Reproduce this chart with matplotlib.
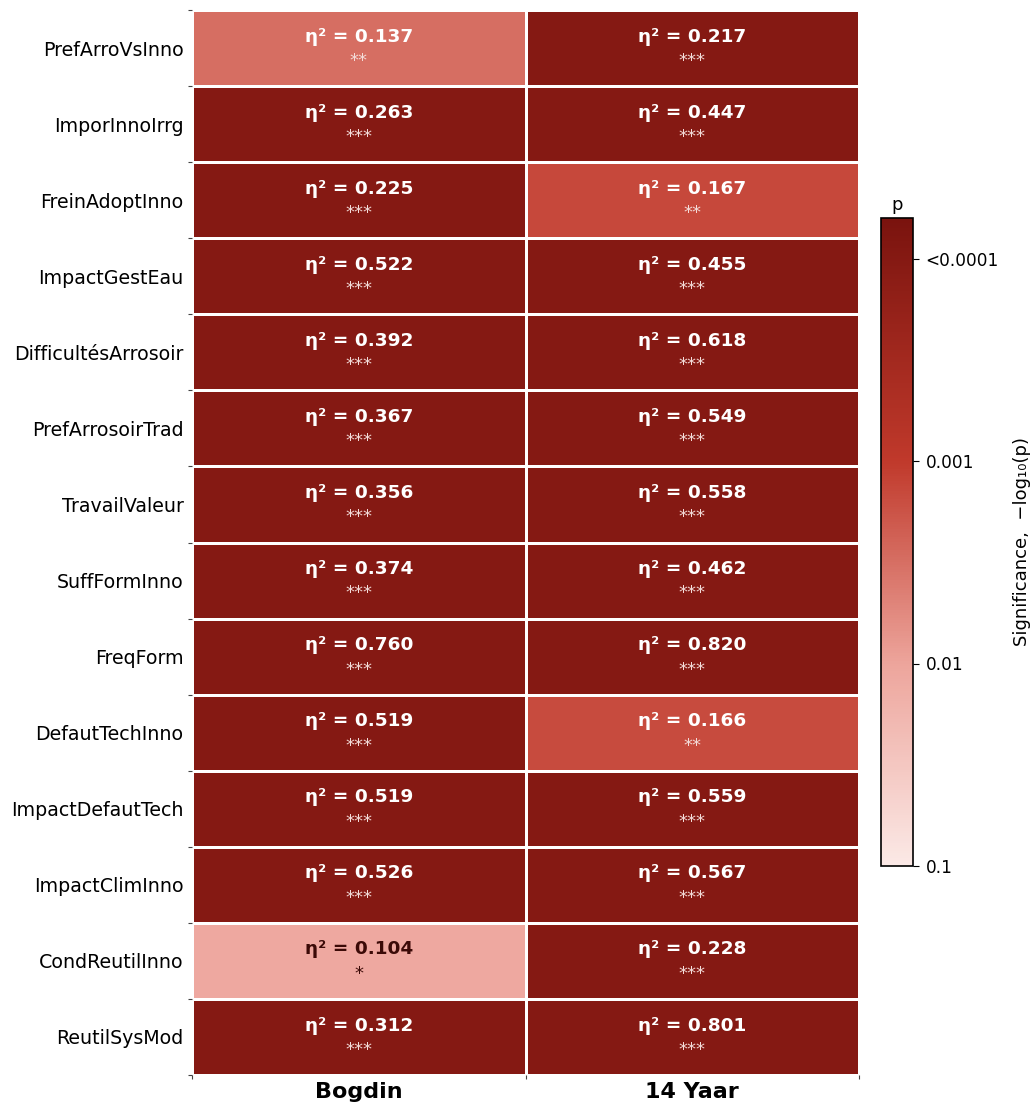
import numpy as np
import matplotlib
matplotlib.use('Agg')
from matplotlib import pyplot as plt
from matplotlib.colors import LinearSegmentedColormap, Normalize

# rows and groups
variables = ['PrefArroVsInno', 'ImporInnoIrrg', 'FreinAdoptInno', 'ImpactGestEau',
             'DifficultésArrosoir', 'PrefArrosoirTrad', 'TravailValeur', 'SuffFormInno',
             'FreqForm', 'DefautTechInno', 'ImpactDefautTech', 'ImpactClimInno',
             'CondReutilInno', 'ReutilSysMod']
groups = ['Bogdin', '14 Yaar']

# eta squared
eta_bogdin = [0.137, 0.263, 0.225, 0.522, 0.392, 0.367, 0.356, 0.374, 0.760, 0.519,
              0.519, 0.526, 0.104, 0.312]
eta_yaar = [0.217, 0.447, 0.167, 0.455, 0.618, 0.549, 0.558, 0.462, 0.820, 0.166,
            0.559, 0.567, 0.228, 0.801]

# -log10(p), capped at 4 (p < 0.0001)
sig_bogdin = [2.5, 4, 4, 4, 4, 4, 4, 4, 4, 4, 4, 4, 1.95, 4]
sig_yaar = [4, 4, 2.85, 4, 4, 4, 4, 4, 4, 2.83, 4, 4, 4, 4]

stars_bogdin = ['**', '***', '***', '***', '***', '***', '***', '***', '***', '***',
                '***', '***', '*', '***']
stars_yaar = ['***', '***', '**', '***', '***', '***', '***', '***', '***', '**',
              '***', '***', '***', '***']

cbar_ticks = [1, 2, 3, 4]
cbar_ticklabels = ['0.1', '0.01', '0.001', '<0.0001']

sig = np.array([sig_bogdin, sig_yaar]).T
eta = np.array([eta_bogdin, eta_yaar]).T
stars = np.array([stars_bogdin, stars_yaar]).T

cmap = LinearSegmentedColormap.from_list(
    'sig', [(0.0, '#fbe9e6'), (0.31, '#eda59c'), (0.625, '#c0392b'), (1.0, '#7a130e')])
norm = Normalize(vmin=1, vmax=4.2)

fig = plt.figure(figsize=(10.35, 11.12), dpi=100)
ax = fig.add_axes([192 / 1035, 1 - 1075 / 1112, (859 - 192) / 1035, (1075 - 10) / 1112])

mesh = ax.pcolormesh(sig, cmap=cmap, norm=norm, edgecolors='white', linewidth=1.8)
ax.set_xlim(0, 2)
ax.set_ylim(len(variables), 0)

for i in range(len(variables)):
    for j in range(len(groups)):
        light = norm(sig[i, j]) < 0.35
        c1 = '#3b0a07' if light else 'white'
        c2 = '#3b0a07' if light else '#f3dcd9'
        ax.text(j + 0.5, i + 0.35, 'η² = %.3f' % eta[i, j], ha='center', va='center',
                fontsize=13.3, fontweight='bold', color=c1)
        ax.text(j + 0.5, i + 0.67, stars[i, j], ha='center', va='center',
                fontsize=13, color=c2)

# ticks on the cell edges, labels in the centers
ax.set_yticks(np.arange(len(variables) + 1))
ax.set_yticks(np.arange(len(variables)) + 0.5, minor=True)
ax.set_yticklabels([])
ax.set_yticklabels(variables, minor=True, fontsize=13.7)
ax.set_xticks(np.arange(len(groups) + 1))
ax.set_xticks(np.arange(len(groups)) + 0.5, minor=True)
ax.set_xticklabels([])
ax.set_xticklabels(groups, minor=True, fontsize=16, fontweight='bold')
ax.tick_params(which='major', length=3, width=0.8, color='#444444')
ax.tick_params(axis='y', which='minor', length=0, pad=6)
ax.tick_params(axis='x', which='minor', length=0, pad=5)
for s in ax.spines.values():
    s.set_visible(False)

cax = fig.add_axes([881 / 1035, 1 - 866 / 1112, 32 / 1035, (866 - 218) / 1112])
cb = fig.colorbar(mesh, cax=cax)
cb.set_ticks(cbar_ticks)
cb.set_ticklabels(cbar_ticklabels)
cb.ax.tick_params(labelsize=12.2, length=4, pad=5)
cb.outline.set_linewidth(1.2)
cb.set_label('Significance,  −log₁₀(p)', fontsize=13, labelpad=10)
cb.ax.set_title('p', fontsize=13, pad=6)

plt.savefig('out.png', dpi=100)
